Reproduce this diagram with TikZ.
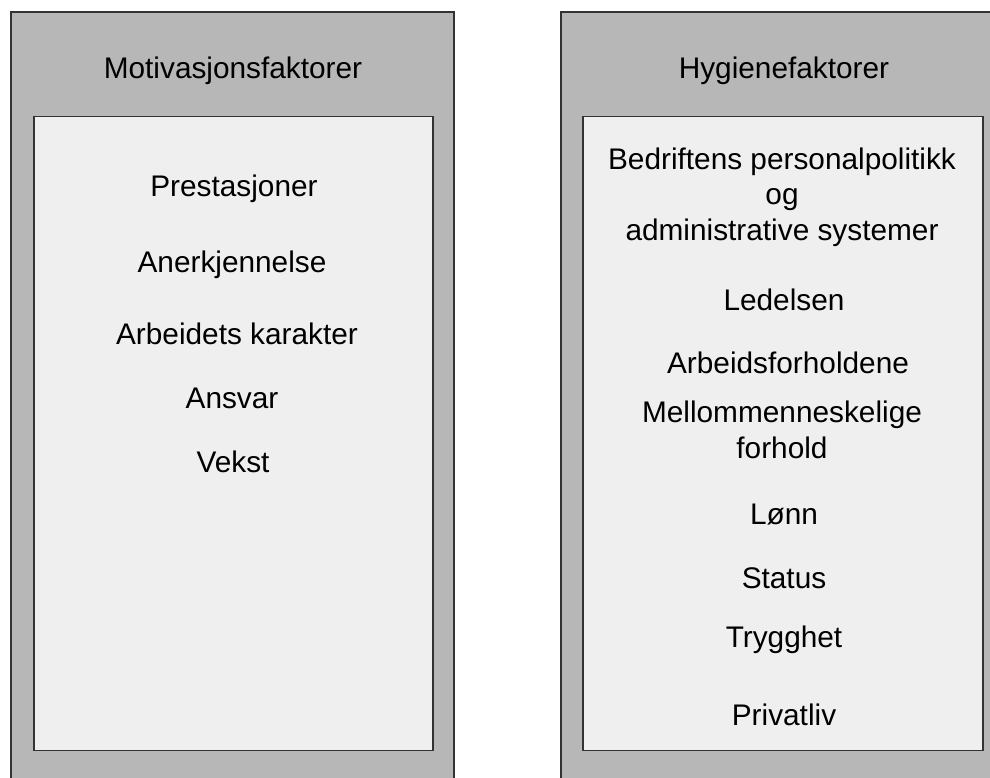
\documentclass[tikz,border=0pt]{standalone}
\usepackage{fontspec}
\setmainfont{Liberation Sans}
\definecolor{panelgray}{HTML}{B7B7B7}
\definecolor{innergray}{HTML}{EFEFEF}
\definecolor{edgegray}{HTML}{333333}

\begin{document}
\begin{tikzpicture}[x=1pt, y=-1pt,
  every node/.style = {align=center, anchor=base,
    font=\fontsize{29.8}{35.5}\selectfont},
  outerbox/.style = {draw=edgegray, line width=1.5pt, fill=panelgray,
    anchor=north west, inner sep=0pt},
  innerbox/.style = {draw=edgegray, line width=1.5pt, fill=innergray,
    anchor=north west, inner sep=0pt}]
  \clip (0,0) rectangle (990,777);
  \fill[white] (0,0) rectangle (990,777);
  % panels
  \node[outerbox, minimum width=443pt, minimum height=800pt] (motivpanel) at (10,11) {};
  \node[outerbox, minimum width=450pt, minimum height=800pt] (hygpanel) at (560,11) {};
  \node[innerbox, minimum width=399pt, minimum height=634pt] (motivlist) at (33,115.5) {};
  \node[innerbox, minimum width=400pt, minimum height=634pt] (hyglist) at (582,115.5) {};
  % headings
  \node (motivhead) at (233,78) {Motivasjonsfaktorer};
  \node (hyghead) at (784,78) {Hygienefaktorer};
  % motivasjonsfaktorer
  \node (prestasjoner) at (234,196) {Prestasjoner};
  \node (anerkjennelse) at (232,272) {Anerkjennelse};
  \node (karakter) at (237,344) {Arbeidets karakter};
  \node (ansvar) at (232,408) {Ansvar};
  \node (vekst) at (233,472) {Vekst};
  % hygienefaktorer (base = last line)
  \node (personal) at (782,240) {Bedriftens personalpolitikk\\og\\administrative systemer};
  \node (ledelsen) at (784,310) {Ledelsen};
  \node (forholdene) at (788,373) {Arbeidsforholdene};
  \node (mellom) at (782,458) {Mellommenneskelige\\forhold};
  \node (lonn) at (784,524) {Lønn};
  \node (status) at (784,588) {Status};
  \node (trygghet) at (784,647) {Trygghet};
  \node (privatliv) at (784,725) {Privatliv};
\end{tikzpicture}
\end{document}
